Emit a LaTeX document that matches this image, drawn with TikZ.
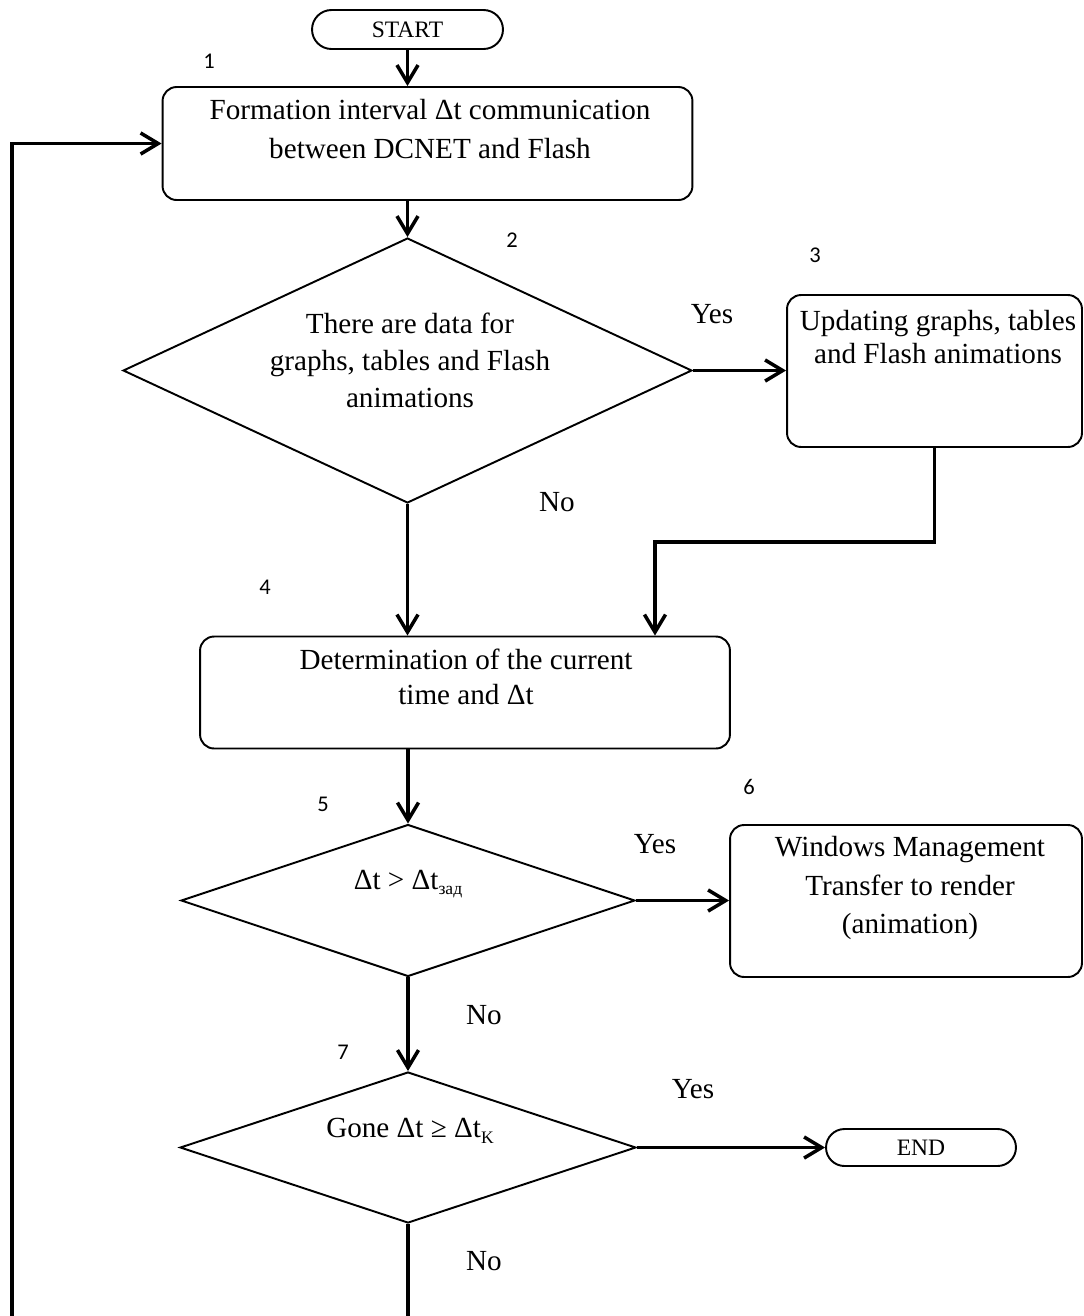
\documentclass[tikz,border=0pt]{standalone}
\usepackage{fontspec}
\setmainfont{Liberation Serif}
\newfontfamily\numfont{Carlito}
\usetikzlibrary{arrows.meta,shapes.geometric,shapes.misc}
\newcommand\lowsub[1]{\raisebox{-3.2pt}{\fontsize{10}{12}\selectfont #1}}
\begin{document}
\begin{tikzpicture}[x=0.02cm,y=-0.02cm,
  box/.style={draw,line width=1.1pt,rounded corners=8pt,inner sep=0pt},
  dia/.style={draw,diamond,line width=1.1pt,inner sep=0pt},
  term/.style={draw,rounded rectangle,line width=1.1pt,inner sep=0pt,font=\fontsize{13.4}{16}\selectfont},
  txt/.style={align=center,inner sep=0pt},
  lbl/.style={inner sep=0pt,font=\numfont\fontsize{12.8}{14}\selectfont},
  yn/.style={inner sep=0pt,font=\fontsize{16.6}{20}\selectfont},
  conn/.style={line width=2pt},
  arr/.style={conn,-{Straight Barb[length=10pt,width=12pt]}}
]
\useasboundingbox (0,0) rectangle (1084,1316);
\clip (0,0) rectangle (1084,1316);
\fill[white] (0,0) rectangle (1084,1316);

% nodes
\node[term,minimum width=3.82cm,minimum height=0.78cm] (start) at (407.5,29.5) {START};
\node[box,minimum width=10.6cm,minimum height=2.26cm] (b1) at (427.5,143.5) {};
\node[txt,font=\fontsize{16.6}{22.5}\selectfont] (b1t) at (430,129) {Formation interval Δt communication\\between DCNET and Flash};

\node[dia,minimum width=11.38cm,minimum height=5.3cm] (d2) at (407.5,370.5) {};
\node[txt,font=\fontsize{16.6}{21}\selectfont] (d2t) at (410,360) {There are data for\\graphs, tables and Flash\\animations};

\node[box,minimum width=5.9cm,minimum height=3.04cm] (b3) at (934.5,371) {};
\node[txt,font=\fontsize{16.6}{19}\selectfont] (b3t) at (938,337) {Updating graphs, tables\\and Flash animations};

\node[box,minimum width=10.6cm,minimum height=2.24cm] (b4) at (465,692.5) {};
\node[txt,font=\fontsize{16.6}{20}\selectfont] (b4t) at (466,677) {Determination of the current\\time and Δt};

\node[dia,minimum width=9.08cm,minimum height=3.04cm] (d5) at (408,900.5) {};
\node[txt,font=\fontsize{16.6}{20}\selectfont] (d5t) at (408,884) {Δt > Δt\lowsub{зад}};

\node[box,minimum width=7.04cm,minimum height=3.04cm] (b6) at (906,901) {};
\node[txt,font=\fontsize{16.6}{22}\selectfont] (b6t) at (910,888) {Windows Management\\Transfer to render\\(animation)};

\node[dia,minimum width=9.12cm,minimum height=3.02cm] (d7) at (408,1147.5) {};
\node[txt,font=\fontsize{16.6}{20}\selectfont] (d7t) at (410,1131) {Gone Δt ≥ Δt\lowsub{K}};

\node[term,minimum width=3.8cm,minimum height=0.74cm] (end) at (921,1147.5) {END};

% number labels
\node[lbl] (n1) at (209,61) {1};
\node[lbl] (n2) at (512,240) {2};
\node[lbl] (n3) at (815,255) {3};
\node[lbl] (n4) at (265,587) {4};
\node[lbl] (n5) at (323,804) {5};
\node[lbl] (n6) at (749,787) {6};
\node[lbl] (n7) at (343,1052) {7};

% yes/no labels
\node[yn] (y2) at (712,314) {Yes};
\node[yn] (no2) at (557,502) {No};
\node[yn] (y5) at (655,844) {Yes};
\node[yn] (no5) at (484,1015) {No};
\node[yn] (y7) at (693,1089) {Yes};
\node[yn] (no7) at (484,1261) {No};

% connectors
\draw[arr] (start.south) -- (start.south |- b1.north);
\draw[arr] (d2.north |- b1.south) -- (d2.north);
\draw[arr] (d2.east) -- (d2.east -| b3.west);
\coordinate (j2) at (655,542);
\draw[arr] (b3.south) |- (j2) -- (j2 |- b4.north);
\draw[arr] (d2.south) -- (d2.south |- b4.north);
\draw[arr] (d5.north |- b4.south) -- (d5.north);
\draw[arr] (d5.east) -- (d5.east -| b6.west);
\draw[arr] (d5.south) -- (d7.north);
\draw[arr] (d7.east) -- (end.west);
\coordinate (lp) at (12,1317.5);
\draw[arr] (d7.south) -- (d7.south |- lp) -- (lp) -- (lp |- b1.west) -- (b1.west);
\end{tikzpicture}
\end{document}
